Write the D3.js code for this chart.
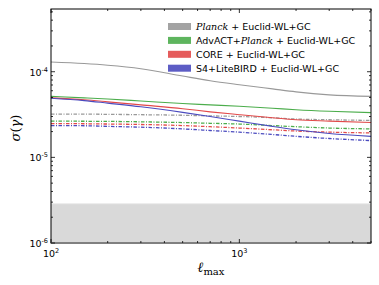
<!DOCTYPE html>
<html>
<head>
<meta charset="utf-8">
<script src="https://cdn.jsdelivr.net/npm/d3@7"></script>
<style>
  body { margin: 0; background: #fff; }
  svg { display: block; font-family: "DejaVu Sans", sans-serif; }
</style>
</head>
<body>
<svg class="chart"></svg>
<script>
const width = 379;
const height = 285;
const margin = { top: 9, right: 8, bottom: 42, left: 51 };

// l_max sample points
const ells = [100, 150, 200, 300, 500, 700, 1000, 1500, 2000, 3000, 5000];

// solid lines: CMB + Euclid
const planckSolid = [1.30e-4, 1.245e-4, 1.19e-4, 1.084e-4, 8.9e-5, 7.85e-5, 7.05e-5, 6.3e-5, 5.82e-5, 5.37e-5, 5.15e-5];
const advactSolid = [5.15e-5, 4.95e-5, 4.8e-5, 4.55e-5, 4.25e-5, 4.1e-5, 3.95e-5, 3.75e-5, 3.6e-5, 3.45e-5, 3.33e-5];
const coreSolid = [4.95e-5, 4.7e-5, 4.45e-5, 4.1e-5, 3.7e-5, 3.4e-5, 3.15e-5, 2.9e-5, 2.75e-5, 2.65e-5, 2.55e-5];
const s4Solid = [4.9e-5, 4.6e-5, 4.3e-5, 3.9e-5, 3.35e-5, 3.0e-5, 2.65e-5, 2.3e-5, 2.1e-5, 1.9e-5, 1.76e-5];

// dash-dot lines
const planckDash = [3.2e-5, 3.2e-5, 3.18e-5, 3.15e-5, 3.1e-5, 3.05e-5, 3.0e-5, 2.9e-5, 2.8e-5, 2.75e-5, 2.7e-5];
const advactDash = [2.65e-5, 2.64e-5, 2.63e-5, 2.6e-5, 2.55e-5, 2.5e-5, 2.45e-5, 2.35e-5, 2.28e-5, 2.2e-5, 2.15e-5];
const coreDash = [2.48e-5, 2.47e-5, 2.45e-5, 2.42e-5, 2.35e-5, 2.28e-5, 2.2e-5, 2.1e-5, 2.03e-5, 1.97e-5, 1.93e-5];
const s4Dash = [2.35e-5, 2.34e-5, 2.3e-5, 2.25e-5, 2.15e-5, 2.06e-5, 1.97e-5, 1.85e-5, 1.76e-5, 1.66e-5, 1.57e-5];

// grey band upper edge
const bandTop = 2.86e-6;

const xTicks = [100, 1000];
const yTicks = [1e-6, 1e-5, 1e-4];
const xTickLabels = ["2", "3"];
const yTickLabels = ["-6", "-5", "-4"];

const colors = ["#999999", "#4cad4c", "#e24a4a", "#4b4bbf"];
const series = [
  { name: "planck", solid: planckSolid, dash: planckDash },
  { name: "advact", solid: advactSolid, dash: advactDash },
  { name: "core", solid: coreSolid, dash: coreDash },
  { name: "s4", solid: s4Solid, dash: s4Dash },
];

const svg = d3.select(".chart").attr("width", width).attr("height", height);

const xScale = d3.scaleLog().domain([100, 5000]).range([margin.left, width - margin.right]);
const yScale = d3.scaleLog().domain([1e-6, 5.4e-4]).range([height - margin.bottom, margin.top]);

const x0 = margin.left, x1 = width - margin.right;
const y0 = height - margin.bottom, y1 = margin.top;

// grey band
svg.append("rect")
  .attr("x", x0)
  .attr("y", yScale(bandTop))
  .attr("width", x1 - x0)
  .attr("height", y0 - yScale(bandTop))
  .attr("fill", "#d9d9d9");
svg.append("line")
  .attr("x1", x0).attr("x2", x1)
  .attr("y1", yScale(bandTop)).attr("y2", yScale(bandTop))
  .attr("stroke", "#e2e2e2").attr("stroke-width", 1);

const line = d3.line()
  .x((d, i) => xScale(ells[i]))
  .y((d) => yScale(d))
  .curve(d3.curveMonotoneX);

const plot = svg.append("g");

series.forEach((s, i) => {
  plot.append("path")
    .datum(s.dash)
    .attr("d", line)
    .attr("fill", "none")
    .attr("stroke", colors[i])
    .attr("stroke-width", 1.3)
    .attr("stroke-dasharray", "3.5,1.5,1,1.5");
});
series.forEach((s, i) => {
  plot.append("path")
    .datum(s.solid)
    .attr("d", line)
    .attr("fill", "none")
    .attr("stroke", colors[i])
    .attr("stroke-width", 1.1);
});

// frame
svg.append("rect")
  .attr("x", x0).attr("y", y1)
  .attr("width", x1 - x0).attr("height", y0 - y1)
  .attr("fill", "none").attr("stroke", "#000").attr("stroke-width", 1);
svg.append("line")
  .attr("x1", x0).attr("x2", x1)
  .attr("y1", y0).attr("y2", y0)
  .attr("stroke", "#808080").attr("stroke-width", 2);

// minor ticks
const xMinor = [];
[100, 1000].forEach((b) => { for (let k = 2; k <= 9; k++) if (b * k <= 5000) xMinor.push(b * k); });
const yMinor = [];
[1e-6, 1e-5, 1e-4].forEach((b) => { for (let k = 2; k <= 9; k++) if (b * k <= 5.4e-4) yMinor.push(b * k); });

const ticks = svg.append("g").attr("stroke", "#000").attr("stroke-width", 0.8);
function tickX(v, len) {
  ticks.append("line").attr("x1", xScale(v)).attr("x2", xScale(v)).attr("y1", y0).attr("y2", y0 - len);
  ticks.append("line").attr("x1", xScale(v)).attr("x2", xScale(v)).attr("y1", y1).attr("y2", y1 + len);
}
function tickY(v, len) {
  ticks.append("line").attr("y1", yScale(v)).attr("y2", yScale(v)).attr("x1", x0).attr("x2", x0 + len);
  ticks.append("line").attr("y1", yScale(v)).attr("y2", yScale(v)).attr("x1", x1).attr("x2", x1 - len);
}
xTicks.forEach((v) => tickX(v, 4));
xMinor.forEach((v) => tickX(v, 2));
yTicks.forEach((v) => tickY(v, 4));
yMinor.forEach((v) => tickY(v, 2));

// tick labels
xTicks.forEach((v, i) => {
  const t = svg.append("text")
    .attr("x", xScale(v))
    .attr("y", y0 + 14)
    .attr("text-anchor", "middle")
    .style("font-size", "9.5px");
  t.append("tspan").text("10");
  t.append("tspan").attr("dy", -4).style("font-size", "6.5px").text(xTickLabels[i]);
});
yTicks.forEach((v, i) => {
  const t = svg.append("text")
    .attr("x", x0 - 3)
    .attr("y", yScale(v) + 4)
    .attr("text-anchor", "end")
    .style("font-size", "9.5px");
  t.append("tspan").text("10");
  t.append("tspan").attr("dy", -4).style("font-size", "6.5px").text(yTickLabels[i]);
});

// axis labels
const xl = svg.append("text")
  .attr("x", 211)
  .attr("y", 272)
  .attr("text-anchor", "middle")
  .style("font-family", "'DejaVu Serif', serif");
xl.append("tspan").style("font-size", "14px").style("font-style", "italic").text("ℓ");
xl.append("tspan").attr("dy", 3).style("font-size", "10px").text("max");

const yl = svg.append("text")
  .attr("transform", "translate(20,128) rotate(-90)")
  .attr("text-anchor", "middle")
  .style("font-family", "'DejaVu Serif', serif")
  .style("font-size", "13px");
yl.append("tspan").style("font-style", "italic").text("σ");
yl.append("tspan").text("(");
yl.append("tspan").style("font-style", "italic").text("γ");
yl.append("tspan").text(")");

// legend
const legendRows = [
  [["Planck", true], [" + Euclid-WL+GC", false]],
  [["AdvACT+", false], ["Planck", true], [" + Euclid-WL+GC", false]],
  [["CORE + Euclid-WL+GC", false]],
  [["S4+LiteBIRD + Euclid-WL+GC", false]],
];
const legend = svg.append("g");
legendRows.forEach((row, i) => {
  const cy = 26.5 + i * 13.9;
  legend.append("rect")
    .attr("x", 168).attr("y", cy - 3.5)
    .attr("width", 23).attr("height", 7)
    .attr("fill", colors[i]).attr("fill-opacity", 0.9);
  const t = legend.append("text")
    .attr("x", 196).attr("y", cy + 3.3)
    .style("font-size", "9.5px");
  row.forEach(([str, it]) => {
    const sp = t.append("tspan").text(str);
    if (it) sp.style("font-family", "'DejaVu Serif', serif").style("font-style", "italic");
  });
});
</script>
</body>
</html>
